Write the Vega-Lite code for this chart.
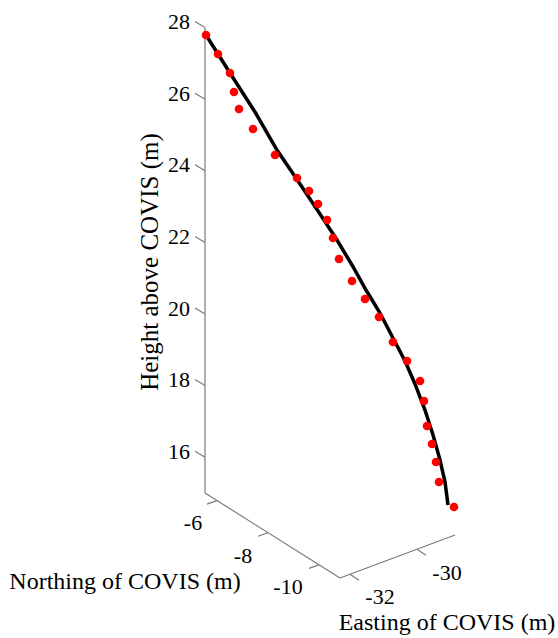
{
  "$schema": "https://vega.github.io/schema/vega-lite/v6.json",
  "width": 558,
  "height": 638,
  "padding": 0,
  "autosize": {"type": "none"},
  "background": "white",
  "config": {"view": {"stroke": null}},
  "datasets": {
    "frame": [
      {"part": "z axis", "u": 0, "h": 15, "u2": 0, "h2": 28},
      {"part": "northing axis", "u": 0, "h": 15, "u2": 3.771, "h2": 12.626},
      {"part": "easting axis", "u": 3.771, "h": 12.626, "u2": 6.983, "h2": 13.827},
      {"part": "z tick", "u": 0, "h": 16, "u2": -0.279, "h2": 16.168},
      {"part": "z tick", "u": 0, "h": 18, "u2": -0.279, "h2": 18.168},
      {"part": "z tick", "u": 0, "h": 20, "u2": -0.279, "h2": 20.168},
      {"part": "z tick", "u": 0, "h": 22, "u2": -0.279, "h2": 22.168},
      {"part": "z tick", "u": 0, "h": 24, "u2": -0.279, "h2": 24.168},
      {"part": "z tick", "u": 0, "h": 26, "u2": -0.279, "h2": 26.168},
      {"part": "z tick", "u": 0, "h": 28, "u2": -0.279, "h2": 28.168},
      {"part": "northing tick", "u": 0.335, "h": 14.788, "u2": 0.056, "h2": 14.69},
      {"part": "northing tick", "u": 1.76, "h": 13.891, "u2": 1.48, "h2": 13.793},
      {"part": "northing tick", "u": 3.184, "h": 12.994, "u2": 2.905, "h2": 12.896},
      {"part": "easting tick", "u": 4.05, "h": 12.729, "u2": 4.302, "h2": 12.561},
      {"part": "easting tick", "u": 5.922, "h": 13.43, "u2": 6.173, "h2": 13.263}
    ],
    "zlabels": [
      {"u": -0.419, "h": 15.958, "label": "16"},
      {"u": -0.419, "h": 17.958, "label": "18"},
      {"u": -0.419, "h": 19.958, "label": "20"},
      {"u": -0.419, "h": 21.958, "label": "22"},
      {"u": -0.419, "h": 23.958, "label": "24"},
      {"u": -0.419, "h": 25.958, "label": "26"},
      {"u": -0.419, "h": 27.958, "label": "28"}
    ],
    "hlabels": [
      {"u": -0.335, "h": 13.966, "label": "-6"},
      {"u": 1.061, "h": 13.045, "label": "-8"},
      {"u": 2.318, "h": 12.179, "label": "-10"},
      {"u": 4.888, "h": 11.899, "label": "-32"},
      {"u": 6.76, "h": 12.57, "label": "-30"}
    ],
    "titles": [
      {"u": -2.235, "h": 12.318, "label": "Northing of COVIS (m)"},
      {"u": 6.76, "h": 11.173, "label": "Easting of COVIS (m)"}
    ],
    "ytitle": [
      {"u": -1.536, "h": 21.453, "label": "Height above COVIS (m)"}
    ],
    "curve": [
      {"i": 1, "u": 0.028, "h": 27.793},
      {"i": 2, "u": 0.698, "h": 26.732},
      {"i": 3, "u": 1.397, "h": 25.642},
      {"i": 4, "u": 2.011, "h": 24.581},
      {"i": 5, "u": 2.654, "h": 23.631},
      {"i": 6, "u": 3.212, "h": 22.793},
      {"i": 7, "u": 3.687, "h": 22.067},
      {"i": 8, "u": 4.106, "h": 21.369},
      {"i": 9, "u": 4.497, "h": 20.67},
      {"i": 10, "u": 4.888, "h": 20.028},
      {"i": 11, "u": 5.251, "h": 19.33},
      {"i": 12, "u": 5.587, "h": 18.687},
      {"i": 13, "u": 5.866, "h": 18.045},
      {"i": 14, "u": 6.145, "h": 17.318},
      {"i": 15, "u": 6.369, "h": 16.62},
      {"i": 16, "u": 6.564, "h": 15.922},
      {"i": 17, "u": 6.704, "h": 15.307},
      {"i": 18, "u": 6.788, "h": 14.665}
    ],
    "dots": [
      {"u": 0.028, "h": 27.793},
      {"u": 0.363, "h": 27.263},
      {"u": 0.698, "h": 26.732},
      {"u": 0.81, "h": 26.201},
      {"u": 0.95, "h": 25.726},
      {"u": 1.341, "h": 25.168},
      {"u": 1.955, "h": 24.441},
      {"u": 2.57, "h": 23.799},
      {"u": 2.905, "h": 23.436},
      {"u": 3.156, "h": 23.073},
      {"u": 3.408, "h": 22.626},
      {"u": 3.575, "h": 22.123},
      {"u": 3.743, "h": 21.536},
      {"u": 4.106, "h": 20.922},
      {"u": 4.469, "h": 20.419},
      {"u": 4.86, "h": 19.916},
      {"u": 5.251, "h": 19.218},
      {"u": 5.642, "h": 18.687},
      {"u": 6.006, "h": 18.128},
      {"u": 6.117, "h": 17.57},
      {"u": 6.201, "h": 16.872},
      {"u": 6.341, "h": 16.369},
      {"u": 6.453, "h": 15.866},
      {"u": 6.536, "h": 15.307},
      {"u": 6.955, "h": 14.609}
    ]
  },
  "encoding": {
    "x": {"field": "u", "type": "quantitative", "scale": {"domain": [-5.726, 9.86], "nice": false, "zero": false}, "axis": null},
    "y": {"field": "h", "type": "quantitative", "scale": {"domain": [10.95, 28.771], "nice": false, "zero": false}, "axis": null}
  },
  "layer": [
    {
      "data": {"name": "frame"},
      "mark": {"type": "rule", "color": "#7a7a7a", "strokeWidth": 1.2},
      "encoding": {"x2": {"field": "u2"}, "y2": {"field": "h2"}}
    },
    {
      "data": {"name": "zlabels"},
      "mark": {"type": "text", "font": "Liberation Serif", "fontSize": 22, "align": "right", "baseline": "alphabetic", "color": "black"},
      "encoding": {"text": {"field": "label"}}
    },
    {
      "data": {"name": "hlabels"},
      "mark": {"type": "text", "font": "Liberation Serif", "fontSize": 22, "align": "center", "baseline": "alphabetic", "color": "black"},
      "encoding": {"text": {"field": "label"}}
    },
    {
      "data": {"name": "titles"},
      "mark": {"type": "text", "font": "Liberation Serif", "fontSize": 24, "align": "center", "baseline": "alphabetic", "color": "black"},
      "encoding": {"text": {"field": "label"}}
    },
    {
      "data": {"name": "ytitle"},
      "mark": {"type": "text", "font": "Liberation Serif", "fontSize": 25, "align": "center", "baseline": "middle", "angle": 270, "color": "black"},
      "encoding": {"text": {"field": "label"}}
    },
    {
      "data": {"name": "curve"},
      "mark": {"type": "line", "color": "black", "strokeWidth": 3.5},
      "encoding": {"order": {"field": "i", "type": "quantitative"}}
    },
    {
      "data": {"name": "dots"},
      "mark": {"type": "point", "filled": true, "color": "#ff0000", "opacity": 1, "size": 75}
    }
  ]
}
